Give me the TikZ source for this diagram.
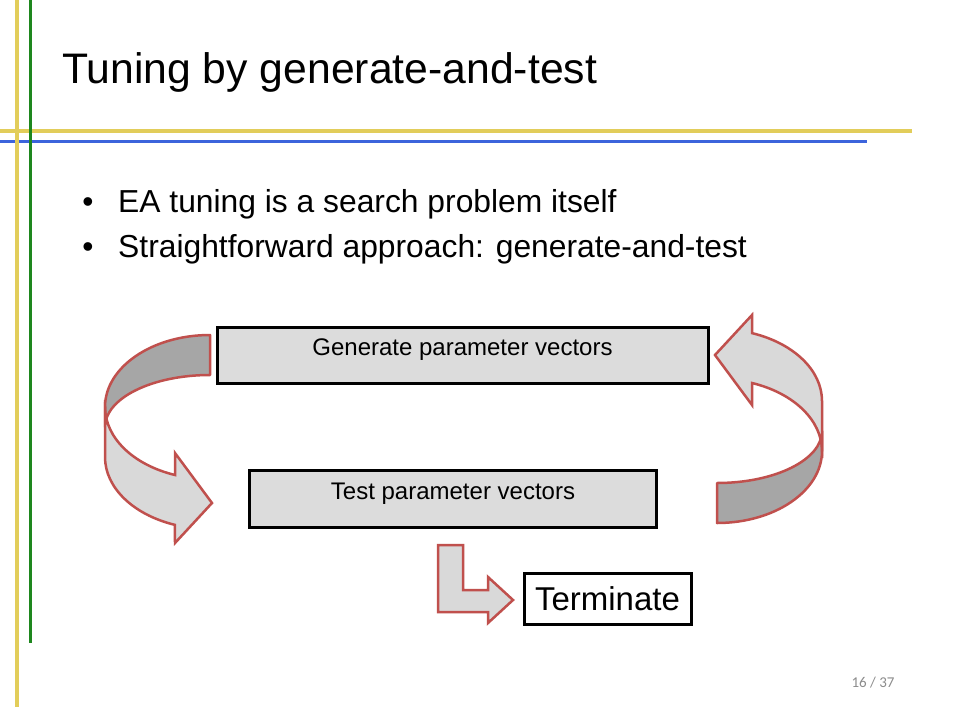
\documentclass[tikz,border=0pt]{standalone}
\usepackage{fontspec}
\setmainfont{Liberation Sans}
\newfontfamily\pagefont{Carlito}
\definecolor{ylw}{RGB}{226,205,90}
\definecolor{grn}{RGB}{30,135,30}
\definecolor{blu}{RGB}{60,100,220}
\definecolor{redline}{RGB}{192,80,77}
\definecolor{lightfill}{RGB}{217,217,217}
\definecolor{darkfill}{RGB}{166,166,166}
\definecolor{boxfill}{RGB}{220,220,220}
\definecolor{pagegray}{RGB}{140,140,140}
\tikzset{
  backband/.style={fill=darkfill, draw=redline, line width=2.5pt, line join=round},
  frontband/.style={fill=lightfill, draw=redline, line width=2.5pt, line join=miter},
  procbox/.style={draw=black, line width=3pt, fill=boxfill, inner sep=0pt,
    font=\fontsize{24}{28}\selectfont, text height=18pt, text depth=18pt},
  termbox/.style={draw=black, line width=3pt, fill=white, inner sep=0pt,
    font=\fontsize{33}{38}\selectfont, text height=24pt, text depth=0pt},
  bullettext/.style={anchor=base west, inner sep=0pt, font=\fontsize{31.8}{37}\selectfont},
  bulletmark/.style={anchor=base, inner sep=0pt, font=\fontsize{31.8}{37}\selectfont},
  rule/.style={line cap=butt}
}
\newcommand{\CurvArrowShape}{%
  \filldraw[backband] (210,335) arc[start angle=90,end angle=180,x radius=105pt,y radius=72pt]
    -- (105,427) arc[start angle=180,end angle=90,x radius=105pt,y radius=52pt] -- cycle;
  \filldraw[frontband] (105,407) -- (105,457)
    arc[start angle=180,end angle=250.5,x radius=105pt,y radius=72pt]
    -- (175,543) -- (212,503) -- (175,453) -- (175,475)
    arc[start angle=250.5,end angle=180,x radius=105pt,y radius=72pt] -- cycle;
}
\begin{document}
\begin{tikzpicture}[x=1pt,y=-1pt]
\useasboundingbox (0,0) rectangle (960,720);
\fill[white] (0,0) rectangle (960,720);
% frame rules
\draw[rule, ylw, line width=4.5pt] (0,131) -- (912,131);
\draw[rule, blu, line width=3pt] (0,141.5) -- (867,141.5);
\draw[rule, ylw, line width=4pt] (17,0) -- (17,707);
\draw[rule, grn, line width=3pt] (30.5,0) -- (30.5,643);
% title
\node[anchor=base west, inner sep=0pt, font=\fontsize{42.7}{50}\selectfont] (title) at (62,83.5) {Tuning by generate-and-test};
% bullets
\node[bulletmark] (b1) at (88,212) {•};
\node[bullettext] (t1) at (118,212) {EA tuning is a search problem itself};
\node[bulletmark] (b2) at (88,257) {•};
\node[bullettext] (t2) at (118,257) {Straightforward approach: generate-and-test};
% curved arrows
\begin{scope}
\CurvArrowShape
\end{scope}
\begin{scope}[rotate around={180:(463.5,429)}]
\CurvArrowShape
\end{scope}
% boxes
\node[procbox, minimum width=491pt, minimum height=56pt] (gen) at (462.5,355) {Generate parameter vectors};
\node[procbox, minimum width=407pt, minimum height=57pt] (test) at (453,499) {Test parameter vectors};
\node[termbox, minimum width=167pt, minimum height=51pt] (term) at (607.5,598.5) {Terminate};
% bent arrow
\filldraw[frontband] (438,545) -- (463,545) -- (463,590) -- (488,590) -- (488,577) -- (513,600) -- (488,623) -- (488,612) -- (438,612) -- cycle;
% page number
\node[inner sep=0pt, text=pagegray, font=\pagefont\fontsize{15}{18}\selectfont] (page) at (873,683) {16 / 37};
\end{tikzpicture}
\end{document}
